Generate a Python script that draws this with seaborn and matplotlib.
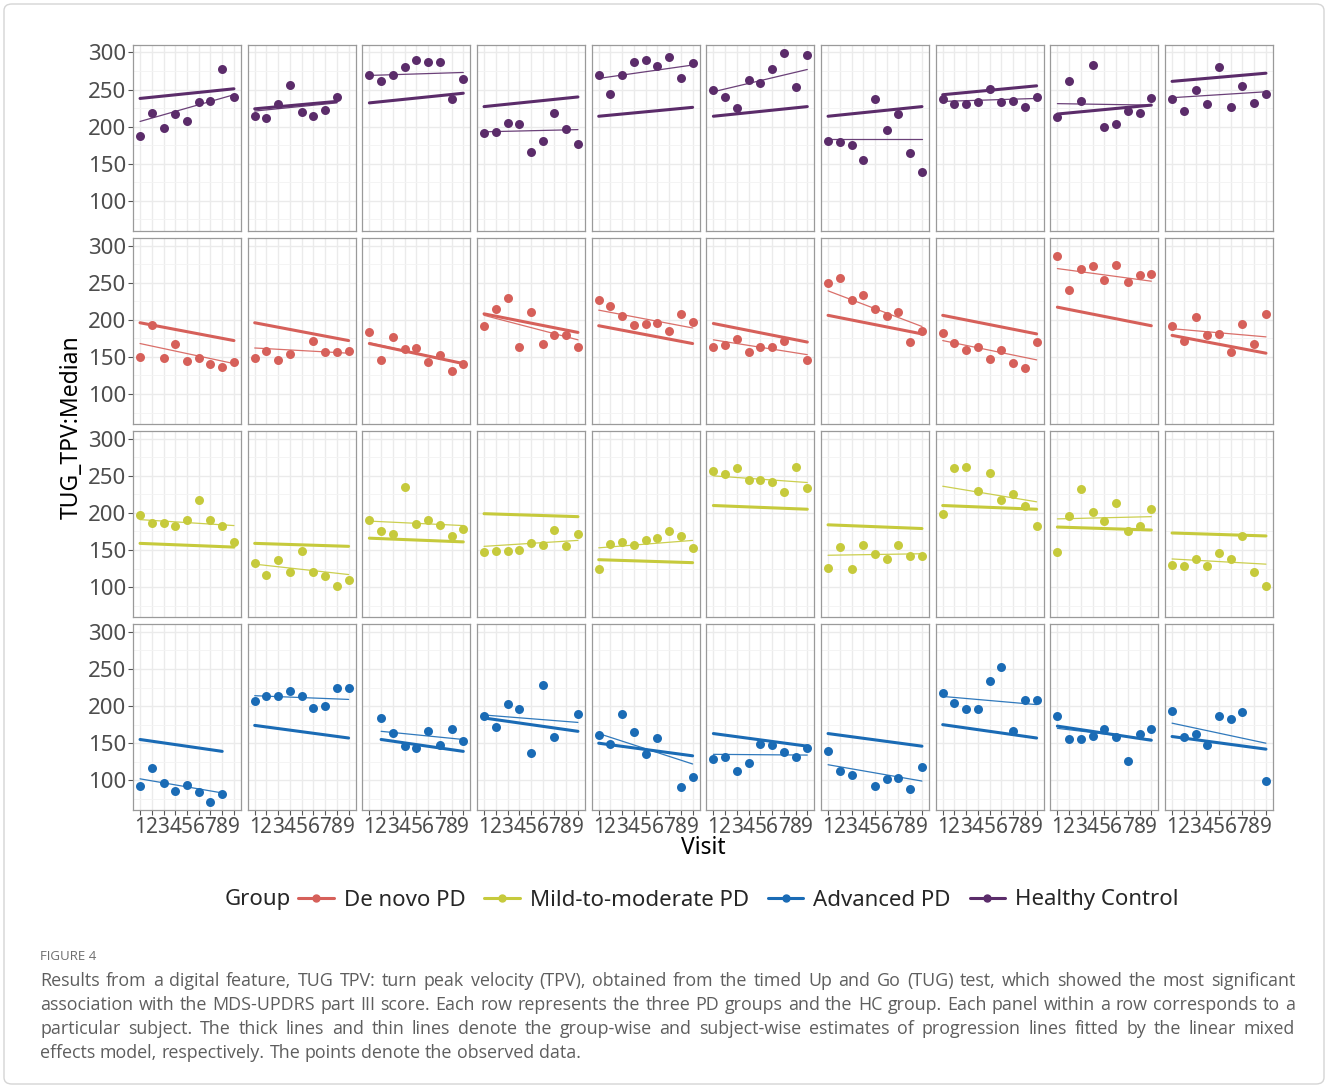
import numpy as np
import pandas as pd
import matplotlib
matplotlib.use("Agg")
import matplotlib.pyplot as plt
import seaborn as sns
from matplotlib.lines import Line2D
from matplotlib.patches import FancyBboxPatch

nan = np.nan

# ---------------------------------------------------------------- data
visits = [1, 2, 3, 4, 5, 6, 7, 8, 9]
legend_order = ["De novo PD", "Mild-to-moderate PD", "Advanced PD", "Healthy Control"]
row_order = ["Healthy Control", "De novo PD", "Mild-to-moderate PD", "Advanced PD"]
colors = ["#D6605A", "#C6CA3C", "#1A6BB5", "#5B2C6A"]

# observed TUG TPV medians, one list per subject (visits 1..9)
hc_obs = [
    [188, 218, 198, 217, 208, 233, 234, 277, 240],
    [215, 211, 230, 256, 220, 214, 223, 240, nan],
    [269, 262, 269, 280, 290, 287, 287, 237, 264],
    [192, 193, 205, 204, 166, 180, 218, 197, 177],
    [269, 244, 269, 287, 290, 282, 294, 266, 286],
    [250, 240, 225, 263, 259, 277, 299, 253, 296],
    [181, 179, 175, 155, 237, 196, 217, 165, 139],
    [237, 231, 231, 233, 251, 233, 234, 226, 240],
    [213, 261, 234, 283, 200, 204, 221, 219, 238],
    [237, 221, 250, 230, 280, 226, 255, 232, 244],
]
hc_subject_fit = [(207, 243), (221, 232), (269, 273), (193, 196), (265, 283),
                  (247, 277), (184, 184), (234, 238), (231, 229), (239, 247)]
hc_group_fit = [(238, 251), (224, 234), (232, 245), (227, 240), (214, 226),
                (214, 227), (214, 227), (243, 255), (217, 229), (261, 272)]

dn_obs = [
    [150, 193, 149, 168, 144, 148, 141, 136, 143],
    [148, 158, 146, 154, nan, 172, 157, 157, 158],
    [183, 146, 177, 160, 162, 143, 153, 131, 141],
    [191, 215, 230, 163, 210, 168, 179, 180, 164],
    [226, 218, 205, 193, 195, 196, 185, 208, 197],
    [163, 166, 174, 156, 163, 164, 171, nan, 146],
    [250, 256, 226, 234, 215, 205, 210, 170, 185],
    [182, 169, 159, 164, 147, 159, 142, 135, 170],
    [286, 240, 268, 272, 253, 274, 251, 260, 262],
    [192, 171, 204, 180, 181, 157, 194, 167, 208],
]
dn_subject_fit = [(168, 141), (162, 155), (169, 141), (206, 173), (213, 189),
                  (173, 153), (239, 191), (172, 146), (269, 252), (188, 177)]
dn_group_fit = [(196, 172), (196, 172), (168, 141), (208, 183), (192, 168),
                (195, 170), (206, 181), (206, 181), (217, 192), (179, 155)]

mm_obs = [
    [197, 187, 186, 182, 190, 217, 190, 183, 161],
    [133, 117, 137, 120, 149, 120, 115, 102, 110],
    [191, 176, 171, 235, 185, 191, 184, 169, 179],
    [147, 149, 149, 150, 160, 157, 177, 156, 171],
    [124, 158, 161, 157, 164, 166, 176, 169, 153],
    [256, 252, 260, 245, 244, 242, 228, 262, 233],
    [126, 154, 124, 157, 145, 138, 157, 142, 142],
    [199, 260, 262, 229, 254, 218, 226, 209, 182],
    [148, 196, 232, 201, 189, 214, 176, 183, 205],
    [130, 128, 138, 128, 146, 138, 169, 121, 101],
]
mm_subject_fit = [(191, 183), (131, 117), (189, 183), (155, 163), (153, 163),
                  (250, 241), (143, 145), (236, 215), (192, 195), (138, 131)]
mm_group_fit = [(159, 154), (159, 155), (166, 161), (199, 195), (137, 133),
                (210, 205), (184, 179), (210, 205), (181, 177), (173, 169)]

adv_obs = [
    [93, 116, 96, 86, 94, 84, 71, 82, nan],
    [207, 214, 214, 221, 213, 197, 200, 224, 225],
    [nan, 184, 164, 146, 144, 166, 148, 169, 153],
    [186, 172, 203, 196, 137, 229, 159, nan, 189],
    [161, 149, 189, 165, 135, 157, nan, 91, 105],
    [129, 132, 112, 123, 149, 148, 138, 131, 143],
    [139, 113, 107, nan, 92, 102, 103, 88, 118],
    [218, 204, 196, 196, 234, 253, 167, 208, 208],
    [186, 156, 156, 160, 169, 159, 126, 163, 169],
    [194, 159, 163, 147, 186, 183, 192, nan, 99],
]
adv_subject_fit = [(102, 83), (214, 209), (166, 155), (188, 178), (163, 122),
                   (135, 134), (121, 99), (213, 202), (170, 155), (177, 150)]
adv_group_fit = [(155, 139), (174, 157), (155, 139), (184, 166), (150, 133),
                 (163, 146), (163, 146), (175, 157), (173, 154), (159, 142)]

y_ticks = [100, 150, 200, 250, 300]

# ---------------------------------------------------------------- tidy tables
group_data = {
    "Healthy Control": (hc_obs, hc_subject_fit, hc_group_fit),
    "De novo PD": (dn_obs, dn_subject_fit, dn_group_fit),
    "Mild-to-moderate PD": (mm_obs, mm_subject_fit, mm_group_fit),
    "Advanced PD": (adv_obs, adv_subject_fit, adv_group_fit),
}
palette = dict(zip(legend_order, colors))

obs_rows, fit_rows = [], []
for grp, (obs, sfit, gfit) in group_data.items():
    for j, vals in enumerate(obs):
        present = [v for v, y in zip(visits, vals) if not np.isnan(y)]
        for v, y in zip(visits, vals):
            if not np.isnan(y):
                obs_rows.append((grp, j, v, y))
        first, last = present[0], present[-1]
        for kind, (a, b) in (("subject", sfit[j]), ("group", gfit[j])):
            fit_rows.append((grp, j, kind, first, a))
            fit_rows.append((grp, j, kind, last, b))
obs_df = pd.DataFrame(obs_rows, columns=["Group", "subject", "Visit", "TPV"])
fit_df = pd.DataFrame(fit_rows, columns=["Group", "subject", "kind", "Visit", "TPV"])

# ---------------------------------------------------------------- figure
sns.set_theme(style="white")
plt.rcParams["font.family"] = ["Noto Sans", "DejaVu Sans"]

W, H = 1328, 1088
fig, axes = plt.subplots(4, 10, figsize=(W / 100, H / 100), dpi=100,
                         sharex=True, sharey=True)
fig.subplots_adjust(left=133 / W, right=1273 / W, top=1 - 45 / H,
                    bottom=1 - 810 / H, wspace=0.062, hspace=0.041)

tick_col = "#4D4D4D"
for r, grp in enumerate(row_order):
    col = palette[grp]
    for j in range(10):
        ax = axes[r, j]
        ax.set_facecolor("white")
        for v in visits:
            ax.axvline(v, color="#EBEBEB", lw=1.0, zorder=0)
        for yv in y_ticks:
            ax.axhline(yv, color="#EBEBEB", lw=1.0, zorder=0)
        for yv in [75, 125, 175, 225, 275]:
            ax.axhline(yv, color="#F3F3F3", lw=0.6, zorder=0)

        sub_obs = obs_df[(obs_df.Group == grp) & (obs_df.subject == j)]
        sub_fit = fit_df[(fit_df.Group == grp) & (fit_df.subject == j)]
        sns.lineplot(data=sub_fit[sub_fit.kind == "group"], x="Visit", y="TPV",
                     color=col, lw=2.2, ax=ax, zorder=2, estimator=None)
        sns.lineplot(data=sub_fit[sub_fit.kind == "subject"], x="Visit", y="TPV",
                     color=col, lw=0.9, alpha=0.9, ax=ax, zorder=3, estimator=None)
        sns.scatterplot(data=sub_obs, x="Visit", y="TPV", color=col, s=42,
                        linewidth=0, ax=ax, zorder=4)

        ax.set_xlim(0.4, 9.6)
        ax.set_ylim(60, 310)
        ax.set_xticks(visits)
        ax.set_yticks(y_ticks)
        ax.set_xlabel("")
        ax.set_ylabel("")
        for s in ax.spines.values():
            s.set_color("#9A9A9A")
            s.set_linewidth(0.9)
        ax.tick_params(axis="both", which="both", length=3.5, width=0.8,
                       color="#555555", labelcolor=tick_col, pad=1.5)
        ax.tick_params(axis="y", labelsize=16, left=(j == 0))
        ax.tick_params(axis="x", labelsize=15, bottom=(r == 3))
        if r == 3:
            ax.set_xticklabels([str(v) for v in visits])

fig.text(72 / W, 1 - 427 / H, "TUG_TPV:Median", rotation=90, ha="center",
         va="center", fontsize=16.5, color="black")
fig.text(703 / W, 1 - 848 / H, "Visit", ha="center", va="center",
         fontsize=16.5, color="black")

# legend
handles = [Line2D([0], [0], color=palette[g], lw=2.2, marker="o", markersize=5)
           for g in legend_order]
fig.text(291 / W, 1 - 900 / H, "Group", ha="right", va="center", fontsize=16)
fig.legend(handles, legend_order, loc="center left",
           bbox_to_anchor=(298 / W, 1 - 900 / H), ncol=4, frameon=False,
           fontsize=16, handlelength=1.6, handletextpad=0.45,
           columnspacing=0.85, borderpad=0, borderaxespad=0)

# caption
cap_font = dict(family=["Open Sans", "DejaVu Sans"], fontsize=12.9,
                color="#5E5E5E", va="center")
fig.text(40 / W, 1 - 957 / H, "FIGURE 4", family=["Open Sans", "DejaVu Sans"],
         fontsize=9.5, color="#6E6E6E", va="center")
caption_lines = [
    "Results from a digital feature, TUG TPV: turn peak velocity (TPV), obtained from the timed Up and Go (TUG) test, which showed the most significant",
    "association with the MDS-UPDRS part III score. Each row represents the three PD groups and the HC group. Each panel within a row corresponds to a",
    "particular subject. The thick lines and thin lines denote the group-wise and subject-wise estimates of progression lines fitted by the linear mixed",
    "effects model, respectively. The points denote the observed data.",
]
renderer = fig.canvas.get_renderer()
x0, x1 = 40, 1295
probe_a = fig.text(0, 0, "x x", **cap_font)
probe_b = fig.text(0, 0, "xx", **cap_font)
space_w = (probe_a.get_window_extent(renderer).width
           - probe_b.get_window_extent(renderer).width)
probe_a.remove()
probe_b.remove()
for i, line in enumerate(caption_lines):
    yline = 1 - (981 + 24 * i) / H
    words = line.split(" ")
    texts = [fig.text(0, yline, w, **cap_font) for w in words]
    widths = [t.get_window_extent(renderer).width for t in texts]
    if i < len(caption_lines) - 1:
        gap = max(((x1 - x0) - sum(widths)) / (len(words) - 1), 2.0)
    else:
        gap = space_w
    x = x0
    for t, w in zip(texts, widths):
        t.set_x(x / W)
        x += w + gap

# outer frame
frame = FancyBboxPatch((4 / W, 4 / H), 1 - 8 / W, 1 - 8 / H,
                       boxstyle="round,pad=0,rounding_size=0.006",
                       transform=fig.transFigure, fill=False,
                       edgecolor="#D5D5D5", lw=1.0)
fig.patches.append(frame)

fig.savefig("out.png", dpi=100, facecolor="white")
